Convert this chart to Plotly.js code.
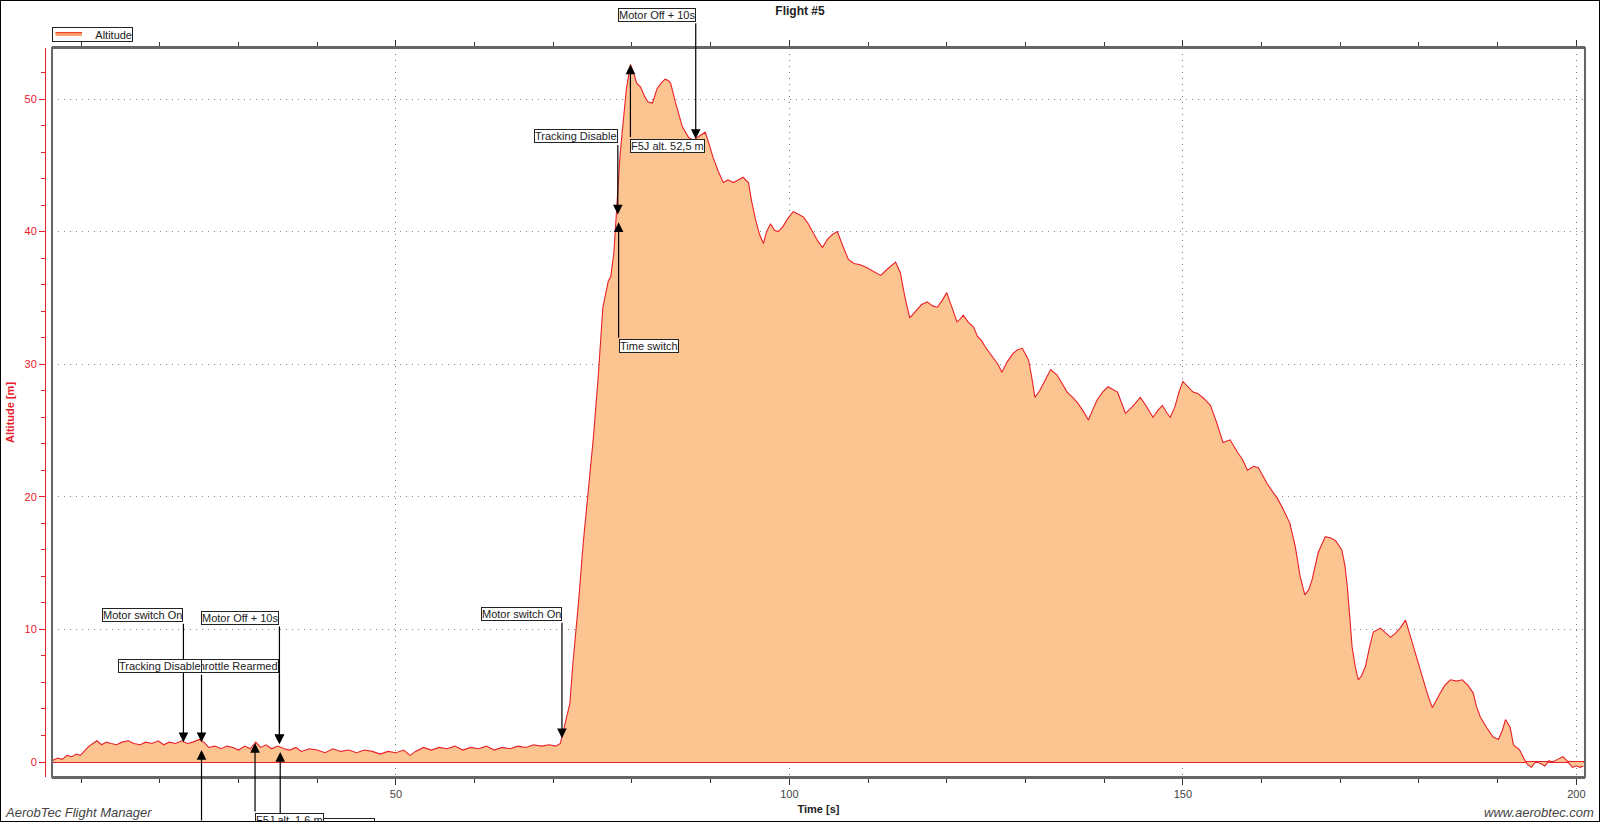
<!DOCTYPE html>
<html>
<head>
<meta charset="utf-8">
<script src="https://cdn.plot.ly/plotly-3.0.1.min.js"></script>
<style>
  html, body { margin: 0; padding: 0; background: #fff; }
  #wrap { position: relative; width: 1600px; height: 822px; overflow: hidden; }
  #chart { width: 1600px; height: 822px; }
  #frame { position: absolute; left: 0; top: 0; width: 1600px; height: 822px; box-sizing: border-box; border: 1px solid #000; pointer-events: none; }
</style>
</head>
<body>
<div id="wrap"><div id="chart"></div><div id="frame"></div></div>
<script>
// ---- data ----
const timeS = [
  6.3, 7.0, 7.6, 8.2, 8.8, 9.4, 9.9, 10.5, 11.0, 11.5, 12.0, 12.6, 13.2, 13.8, 14.5, 15.2, 16.0, 16.7, 17.5, 18.2,
  19.0, 19.8, 20.5, 21.2, 22.0, 22.8, 23.5, 24.2, 25.0, 25.6, 26.2, 27.0, 27.8, 28.5, 29.3, 30.0, 30.8, 31.5, 32.2, 32.8,
  33.5, 34.2, 35.0, 35.8, 36.5, 37.3, 38.0, 39.0, 40.0, 41.0, 42.0, 43.0, 44.0, 45.0, 46.0, 47.0, 48.0, 49.0, 50.0, 51.0,
  51.8, 52.5, 53.5, 54.5, 55.5, 56.5, 57.5, 58.5, 59.5, 60.5, 61.5, 62.5, 63.5, 64.5, 65.5, 66.5, 67.5, 68.5, 69.5, 70.3,
  70.9, 71.5, 72.1, 72.5, 73.2, 73.8, 74.4, 75.1, 75.7, 76.3, 77.0, 77.3, 77.7, 78.1, 78.5, 78.9, 79.3, 79.8, 80.2, 80.6,
  81.1, 81.6, 82.0, 82.6, 83.2, 83.7, 84.2, 84.6, 84.9, 85.5, 86.0, 86.4, 87.2, 87.8, 88.3, 88.8, 89.3, 89.8, 90.3, 91.0,
  91.6, 92.2, 92.9, 93.5, 94.1, 94.8, 95.2, 95.7, 96.2, 96.7, 97.1, 97.6, 98.1, 98.6, 99.2, 99.8, 100.5, 101.2, 101.8, 102.4,
  103.0, 103.6, 104.2, 104.8, 105.5, 106.1, 106.8, 107.5, 108.2, 109.0, 109.8, 110.7, 111.6, 112.5, 113.5, 114.1, 114.7, 115.3, 116.0, 116.8,
  117.5, 118.2, 118.8, 119.4, 120.0, 120.6, 121.3, 121.7, 122.1, 122.7, 123.4, 123.9, 124.4, 124.9, 125.4, 125.9, 126.5, 127.0, 127.7, 128.4,
  129.0, 129.6, 130.0, 130.4, 130.8, 131.2, 131.8, 132.3, 132.8, 133.2, 134.0, 134.6, 135.3, 136.0, 136.6, 137.3, 138.0, 138.5, 139.1, 139.8,
  140.5, 141.1, 141.7, 142.2, 142.7, 143.6, 144.6, 145.4, 146.2, 146.8, 147.4, 147.9, 148.4, 149.0, 149.5, 150.0, 150.6, 151.3, 151.9, 152.7,
  153.5, 154.3, 155.1, 156.0, 157.0, 157.6, 158.2, 159.0, 159.6, 160.1, 160.7, 161.5, 162.0, 162.8, 163.6, 164.3, 164.9, 165.5, 166.0, 166.4,
  167.2, 168.1, 168.8, 169.4, 170.2, 170.6, 170.9, 171.2, 171.5, 171.9, 172.3, 172.7, 173.2, 173.7, 174.2, 175.1, 175.8, 176.4, 177.0, 177.6,
  178.3, 179.0, 179.8, 180.3, 180.8, 181.2, 181.7, 182.2, 182.7, 183.3, 184.0, 184.8, 185.5, 186.2, 186.9, 187.3, 187.8, 188.6, 189.4, 190.1,
  190.6, 191.0, 191.6, 192.0, 192.8, 193.3, 193.8, 194.3, 194.8, 195.4, 196.0, 196.5, 197.0, 197.6, 198.3, 198.8, 199.2, 199.5, 200.0, 200.5,
  200.9
];
const altitudeM = [
  0.1, 0.3, 0.2, 0.5, 0.4, 0.6, 0.5, 0.9, 1.2, 1.4, 1.6, 1.3, 1.5, 1.4, 1.3, 1.5, 1.6, 1.4, 1.3, 1.5,
  1.4, 1.6, 1.3, 1.5, 1.4, 1.6, 1.4, 1.5, 1.7, 1.5, 1.1, 1.2, 1.0, 1.2, 1.1, 0.9, 1.2, 1.0, 1.5, 1.1,
  1.3, 1.0, 1.2, 1.0, 0.9, 1.1, 0.8, 1.0, 0.9, 0.7, 1.0, 0.8, 0.9, 0.7, 0.9, 0.8, 0.6, 0.8, 0.7, 0.9,
  0.5, 0.8, 1.1, 0.9, 1.1, 1.0, 1.2, 0.9, 1.1, 1.0, 1.2, 0.9, 1.1, 1.0, 1.2, 1.1, 1.3, 1.2, 1.3, 1.2,
  1.4, 2.9, 4.4, 7.5, 12.0, 16.5, 20.0, 24.5, 29.0, 34.3, 36.3, 36.6, 38.4, 42.2, 45.9, 48.4, 50.8, 52.6, 52.0, 51.2,
  50.9, 50.2, 49.8, 49.7, 50.8, 51.2, 51.5, 51.4, 51.2, 49.8, 48.7, 47.9, 47.1, 46.9, 47.1, 47.3, 47.5, 46.6, 45.6, 44.5,
  43.7, 43.9, 43.7, 43.9, 44.1, 43.7, 42.3, 40.9, 39.8, 39.1, 40.0, 40.6, 40.1, 40.0, 40.4, 41.0, 41.5, 41.3, 41.1, 40.6,
  39.9, 39.3, 38.8, 39.4, 39.8, 40.0, 38.9, 37.9, 37.6, 37.5, 37.3, 37.0, 36.7, 37.2, 37.7, 36.9, 35.0, 33.5, 34.0, 34.5,
  34.7, 34.4, 34.3, 34.8, 35.4, 34.3, 33.2, 33.4, 33.7, 33.2, 32.8, 32.1, 31.8, 31.3, 30.9, 30.5, 30.0, 29.4, 30.2, 30.8,
  31.1, 31.2, 30.8, 30.3, 29.0, 27.5, 28.0, 28.6, 29.1, 29.6, 29.2, 28.6, 27.9, 27.5, 27.1, 26.5, 25.8, 26.5, 27.3, 27.9,
  28.3, 28.1, 27.9, 27.1, 26.3, 26.8, 27.5, 26.8, 26.0, 26.5, 26.9, 26.4, 26.0, 26.8, 27.9, 28.7, 28.3, 27.9, 27.8, 27.4,
  26.9, 25.6, 24.1, 24.3, 23.3, 22.8, 22.0, 22.3, 22.2, 21.6, 21.0, 20.3, 19.9, 19.0, 18.0, 16.2, 14.0, 12.6, 13.0, 13.7,
  15.8, 17.0, 16.9, 16.7, 16.0, 14.8, 13.2, 11.0, 8.7, 7.2, 6.2, 6.5, 7.2, 8.6, 9.8, 10.1, 9.7, 9.4, 9.7, 10.1,
  10.7, 9.3, 7.7, 6.7, 5.7, 4.9, 4.1, 4.7, 5.2, 5.8, 6.2, 6.1, 6.2, 5.8, 5.2, 4.2, 3.4, 2.6, 1.9, 1.7,
  2.4, 3.2, 2.6, 1.3, 0.9, 0.3, -0.2, -0.4, 0.0, -0.1, -0.3, 0.1, 0.0, 0.2, 0.4, 0.1, -0.2, -0.4, -0.3, -0.4,
  -0.3
];
// flight events (time, altitude at the marker, label); null = no readable box; '' = box whose text is hidden
const eventTime  = [35.2, 23.0, 25.3, 35.2, 25.3, 35.3, 32.1, 71.1, 78.2, 78.3, 79.8, 88.1];
const eventAlt   = [1.36, 1.5, 1.5, 1.36, 0.9, 0.75, 1.43, 1.8, 41.3, 40.7, 52.6, 47.0];
const eventLabel = ['Throttle Rearmed', 'Motor switch On', 'Tracking Disable', 'Motor Off + 10s', null,
                    '', 'F5J alt. 1,6 m', 'Motor switch On', 'Tracking Disable',
                    'Time switch', 'F5J alt. 52,5 m', 'Motor Off + 10s'];
const seriesName = 'Altitude';
const xTickVals = [50, 100, 150, 200];
const yTickVals = [0, 10, 20, 30, 40, 50];

// ---- placement of the event boxes (layout only) ----
// side: 'a' box above the point (line from its right edge), 'b' box below (line from its left edge); dist = px
const evSide = ['a', 'a', 'a', 'a', 'b', 'b', 'b', 'a', 'a', 'b', 'b', 'a'];
const evDist = [71, 120, 69, 119, 90, 66, 70, 117, 71, 117, 74, 117];

const FONT = 'Arial, "Liberation Sans", sans-serif';
const annotations = [];
for (let i = 0; i < eventTime.length; i++) {
  const above = evSide[i] === 'a';
  annotations.push({
    x: eventTime[i], y: eventAlt[i], xref: 'x', yref: 'y',
    text: '', showarrow: true, ax: 0, ay: above ? -evDist[i] : evDist[i],
    arrowhead: 2, arrowsize: 1.6, arrowwidth: 1.2, arrowcolor: '#000',
    standoff: 0, startstandoff: 0
  });
  if (eventLabel[i] !== null) {
    const ann = {
      x: eventTime[i], y: eventAlt[i], xref: 'x', yref: 'y',
      text: eventLabel[i] || '&nbsp;', showarrow: false,
      xanchor: above ? 'right' : 'left', yanchor: above ? 'bottom' : 'top',
      yshift: above ? evDist[i] : -evDist[i],
      bgcolor: '#fff', bordercolor: '#222', borderwidth: 1, borderpad: 0,
      font: {family: FONT, size: 11, color: '#222'}
    };
    if (!eventLabel[i]) { ann.width = 93; ann.height = 13; }
    annotations.push(ann);
  }
}
// legend box (drawn by hand to keep the compact look; transparent so the sample line shows)
annotations.push({
  xref: 'paper', yref: 'paper', x: 0.0045, y: 1.0288, xanchor: 'left', yanchor: 'top',
  text: seriesName, showarrow: false, width: 79, height: 13, align: 'right', valign: 'middle',
  bgcolor: 'rgba(255,255,255,0)', bordercolor: '#222', borderwidth: 1, borderpad: 0,
  font: {family: FONT, size: 11, color: '#222'}
});
annotations.push({
  xref: 'paper', yref: 'paper', x: -0.0273, y: -0.049, xanchor: 'left', yanchor: 'middle',
  text: '<i>AerobTec Flight Manager</i>', showarrow: false,
  font: {family: FONT, size: 13, color: '#444'}
});
annotations.push({
  xref: 'paper', yref: 'paper', x: 1.0071, y: -0.049, xanchor: 'right', yanchor: 'middle',
  text: '<i>www.aerobtec.com</i>', showarrow: false,
  font: {family: FONT, size: 13, color: '#444'}
});

const trace = {
  x: timeS, y: altitudeM, name: seriesName, type: 'scatter', mode: 'lines',
  fill: 'tozeroy', fillcolor: '#FCC490',
  line: {color: '#E8202A', width: 1.1}
};

const GRID_DASH = '1px,5px';
const layout = {
  width: 1600, height: 822,
  margin: {l: 45, r: 15, t: 48, b: 45},
  paper_bgcolor: '#fff', plot_bgcolor: '#fff',
  font: {family: FONT, size: 11, color: '#444'},
  title: {text: '<b>Flight #5</b>', x: 0.5, xref: 'container', xanchor: 'center',
          y: 0.9866, yref: 'container', yanchor: 'middle',
          font: {family: FONT, size: 12, color: '#222'}},
  showlegend: false,
  xaxis: {
    domain: [7 / 1540, 1],
    range: [6.3, 201.1], tickvals: xTickVals, ticktext: xTickVals.map(String),
    showgrid: true, gridcolor: '#777', griddash: GRID_DASH, gridwidth: 1,
    zeroline: false, showline: true, linecolor: '#666', linewidth: 2, mirror: 'ticks',
    ticks: 'outside', ticklen: 6, tickcolor: '#333', tickwidth: 1,
    minor: {dtick: 10, tick0: 0, ticks: 'outside', ticklen: 4, tickcolor: '#333', showgrid: false},
    tickfont: {family: FONT, size: 11, color: '#444'},
    title: {text: '<b>Time [s]</b>', standoff: 6, font: {family: FONT, size: 11, color: '#222'}},
    automargin: false
  },
  yaxis: {
    anchor: 'free', position: 0,
    range: [-1.13, 53.85], tickvals: yTickVals, ticktext: yTickVals.map(String),
    showgrid: true, gridcolor: '#888', griddash: GRID_DASH, gridwidth: 1,
    zeroline: true, zerolinecolor: '#E8202A', zerolinewidth: 1.5,
    showline: true, linecolor: '#E8202A', linewidth: 1,
    ticks: 'outside', ticklen: 6, tickcolor: '#E8202A', tickwidth: 1,
    minor: {dtick: 2, tick0: 0, ticks: 'outside', ticklen: 4, tickcolor: '#E8202A', showgrid: false},
    tickfont: {family: FONT, size: 11, color: '#E8202A'},
    title: {text: '<b>Altitude [m]</b>', standoff: 6, font: {family: FONT, size: 11, color: '#E8202A'}},
    automargin: false
  },
  shapes: [
    {type: 'rect', xref: 'x domain', yref: 'y domain', x0: 0, x1: 1, y0: 0, y1: 1,
     line: {color: '#666', width: 2}, fillcolor: 'rgba(0,0,0,0)', layer: 'above'},
    // legend sample line
    {type: 'line', xref: 'paper', yref: 'paper', x0: 0.0068, x1: 0.0240, y0: 1.0185, y1: 1.0185,
     line: {color: '#F7A36B', width: 3}, layer: 'above'},
    {type: 'line', xref: 'paper', yref: 'paper', x0: 0.0068, x1: 0.0240, y0: 1.0212, y1: 1.0212,
     line: {color: '#E8402A', width: 1.2}, layer: 'above'}
  ],
  annotations: annotations
};

Plotly.newPlot('chart', [trace], layout, {displayModeBar: false, staticPlot: true});
</script>
</body>
</html>
